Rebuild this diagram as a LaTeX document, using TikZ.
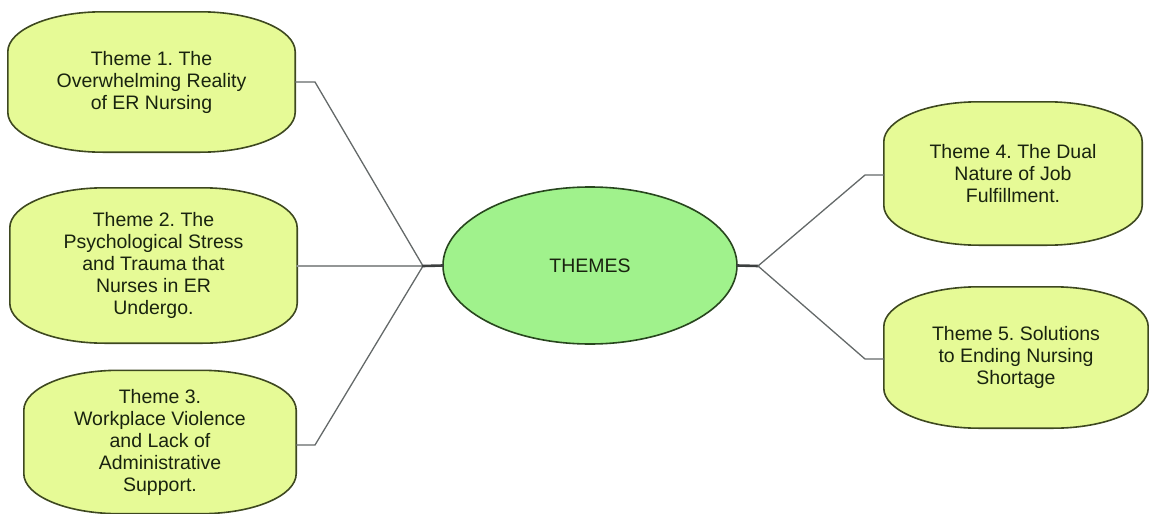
\documentclass[tikz,border=0pt]{standalone}
\usepackage{fontspec}
\setmainfont{Liberation Sans}
\usetikzlibrary{calc}
\usetikzlibrary{shapes.geometric}
\usetikzlibrary{backgrounds}
\frenchspacing

\definecolor{themefill}{RGB}{230,250,150}
\definecolor{themeedge}{RGB}{62,72,32}
\definecolor{hubfill}{RGB}{160,242,140}
\definecolor{hubedge}{RGB}{40,70,30}
\definecolor{wire}{RGB}{100,105,105}
\definecolor{ink}{RGB}{25,35,15}

% outline of a theme box: straight sides, flat elliptic top and bottom
\newcommand{\themeoutline}[1]{%
\draw[themeedge, line width=1.6pt, fill=themefill]
  ($(#1.north west)+(0pt,-40pt)$) arc[start angle=180, end angle=90, x radius=95pt, y radius=40pt]
  -- ($(#1.north east)+(-95pt,0pt)$) arc[start angle=90, end angle=0, x radius=95pt, y radius=40pt]
  -- ($(#1.south east)+(0pt,40pt)$) arc[start angle=0, end angle=-90, x radius=95pt, y radius=40pt]
  -- ($(#1.south west)+(95pt,0pt)$) arc[start angle=270, end angle=180, x radius=95pt, y radius=40pt]
  -- cycle;}

\begin{document}
\begin{tikzpicture}[line cap=round,line join=round,x=1pt,y=-1pt,
  theme/.style={inner sep=0pt, align=center, text=ink,
    font=\fontsize{19.5}{22}\selectfont},
  wireline/.style={wire, line width=1.3pt}]
\useasboundingbox (0,0) rectangle (1149,514);

% the themes
\node[theme, minimum width=287pt, minimum height=140pt] (t1) at (151.5,82) {Theme 1. The\\Overwhelming Reality\\of ER Nursing};
\node[theme, minimum width=287pt, minimum height=155pt] (t2) at (153.5,265.5) {Theme 2. The\\Psychological Stress\\and Trauma that\\Nurses in ER\\Undergo.};
\node[theme, minimum width=272pt, minimum height=143pt] (t3) at (160,442) {Theme 3.\\Workplace Violence\\and Lack of\\Administrative\\Support.};
\node[theme, minimum width=258pt, minimum height=143pt] (t4) at (1013,173.5) {Theme 4. The Dual\\Nature of Job\\Fulfillment.};
\node[theme, minimum width=264pt, minimum height=141pt] (t5) at (1016,357.5) {Theme 5. Solutions\\to Ending Nursing\\Shortage};

% centre
\node[theme, ellipse, minimum width=294pt, minimum height=157pt] (hub) at (590,265.5) {THEMES};

\begin{pgfonlayer}{background}
\themeoutline{t1}
\themeoutline{t2}
\themeoutline{t3}
\themeoutline{t4}
\themeoutline{t5}
\draw[hubedge, line width=1.6pt, fill=hubfill] (590,265.5) ellipse [x radius=147pt, y radius=78.5pt];
\end{pgfonlayer}

% branching points
\coordinate (jl) at (423,266);
\coordinate (jr) at (758,266);
\coordinate (k1) at (315,82);
\coordinate (k3) at (315,445);
\coordinate (k4) at (865,175);
\coordinate (k5) at (865,359);

\draw[wireline] (t1.east |- k1) -- (k1) -- (jl);
\draw[wire!70!white, line width=2.4pt] (t2.east |- jl) -- (jl);
\draw[wireline] (t3.east |- k3) -- (k3) -- (jl);
\draw[wire!60!black, line width=2.6pt] (jl) -- (hub.west);
\draw[wire!60!black, line width=2.6pt] (hub.east) -- (jr);
\draw[wireline] (jr) -- (k4) -- (t4.west |- k4);
\draw[wireline] (jr) -- (k5) -- (t5.west |- k5);
\end{tikzpicture}
\end{document}
